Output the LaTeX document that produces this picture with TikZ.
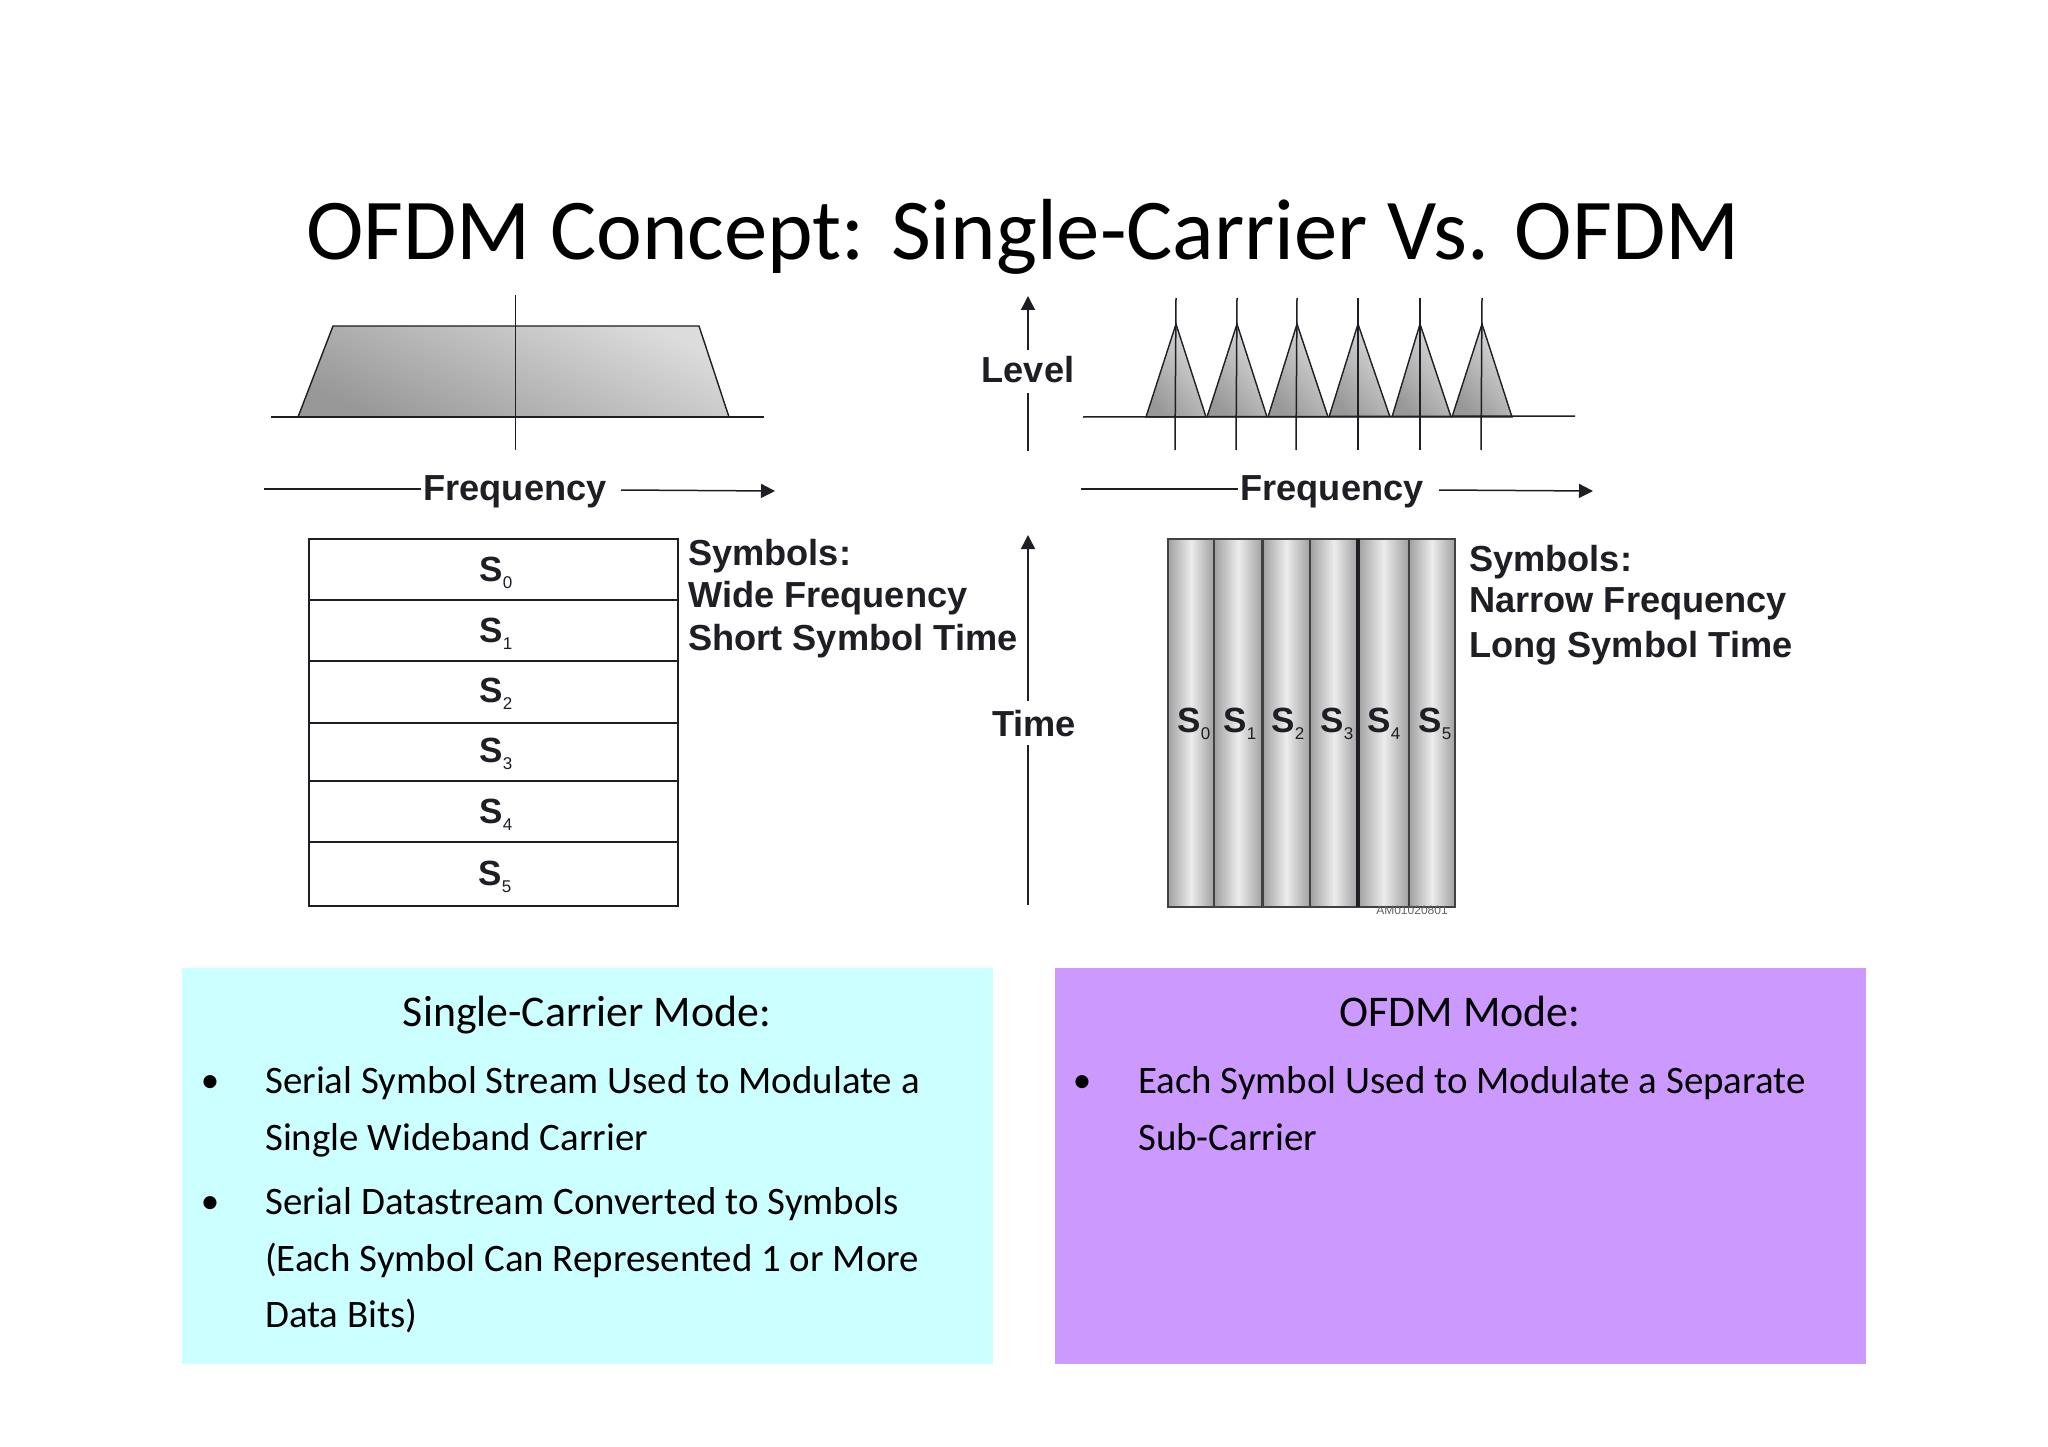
\documentclass[tikz,border=0pt]{standalone}
\usepackage{fontspec}
\setmainfont{Carlito}
\newfontfamily\arialb{Liberation Sans}[BoldFont={Liberation Sans Bold}]
\usetikzlibrary{arrows.meta}
\definecolor{ink}{HTML}{1E1E24}
\definecolor{cyanbox}{HTML}{CCFFFF}
\definecolor{purplebox}{HTML}{CC99FF}
\definecolor{gdark}{HTML}{989898}
\definecolor{glight}{HTML}{DCDCDC}
\definecolor{cdark}{HTML}{A0A0A0}
\definecolor{clight}{HTML}{ECECEC}
\newcommand{\symb}[1]{S\raisebox{-0.22em}{\mdseries\fontsize{17}{17}\selectfont #1}}
\tikzset{
  x=1pt,y=-1pt,
  figlabel/.style={font=\arialb\bfseries\fontsize{36.2}{36.2}\selectfont,text=ink,inner sep=0pt},
  symlabel/.style={font=\arialb\bfseries\fontsize{35}{35}\selectfont,text=ink,inner sep=0pt,anchor=base},
  axisline/.style={draw=ink,line width=1.5pt},
  axisarrow/.style={axisline,-{Triangle[length=14pt,width=14pt]}},
  rowbox/.style={draw=ink,line width=1.6pt,fill=white,minimum width=369pt,inner sep=0pt,outer sep=0pt},
  colshade/.style={draw=ink!85!white,line width=2.4pt,left color=cdark,right color=cdark,middle color=clight},
  modebox/.style={minimum width=811pt,minimum height=396pt,inner sep=0pt},
  modehead/.style={font=\fontsize{43.8}{43.8}\selectfont,text=black,inner sep=0pt,anchor=base},
  modebody/.style={font=\fontsize{38.9}{56.5}\selectfont,text=black,inner sep=0pt,align=left,anchor=west},
  dotmark/.style={font=\fontsize{37}{37}\selectfont,text=black,inner sep=0pt},
}
\begin{document}
\begin{tikzpicture}
\useasboundingbox (0,0) rectangle (2048,1447);
\fill[white] (0,0) rectangle (2048,1447);
% title
\node[font=\fontsize{86.7}{86.7}\selectfont,text=black,inner sep=0pt] (title) at (1023,237) {OFDM Concept: Single-Carrier Vs. OFDM};

% left spectrum
\shade[draw=ink,line width=1.4pt,left color=gdark,right color=glight,shading angle=155]
  (298,417) -- (333,326) -- (699,326) -- (729,417) -- cycle;
\coordinate (laxL) at (271,417); \coordinate (laxR) at (764,417);
\draw[axisline] (laxL) -- (laxR);
\coordinate (lcT) at (515.5,295); \coordinate (lcB) at (515.5,450);
\draw[axisline] (lcT) -- (lcB);

% left frequency
\node[figlabel] (lfreq) at (515,492) {Frequency};
\coordinate (lfS) at (264,489); \coordinate (lfE) at (775,491);
\draw[axisline] (lfS) -- ([xshift=-2pt]lfreq.west |- lfS);
\draw[axisarrow] (621,490) -- (lfE);

% left table
\node[rowbox,minimum height=61pt] (r0) at (493.5,569.5) {};
\node[rowbox,minimum height=61pt] (r1) at (493.5,630.5) {};
\node[rowbox,minimum height=62pt] (r2) at (493.5,692) {};
\node[rowbox,minimum height=58pt] (r3) at (493.5,752) {};
\node[rowbox,minimum height=61pt] (r4) at (493.5,811.5) {};
\node[rowbox,minimum height=64pt] (r5) at (493.5,874) {};
\node[symlabel] (ls0) at (496,581) {\symb{0}};
\node[symlabel] (ls1) at (496,642) {\symb{1}};
\node[symlabel] (ls2) at (496,702) {\symb{2}};
\node[symlabel] (ls3) at (496,762) {\symb{3}};
\node[symlabel] (ls4) at (496,823) {\symb{4}};
\node[symlabel] (ls5) at (495,885) {\symb{5}};

\node[figlabel,anchor=west] (lsa) at (688,556) {Symbols:};
\node[figlabel,anchor=west] (lsb) at (688,598) {Wide Frequency};
\node[figlabel,anchor=west] (lsc) at (688,641) {Short Symbol Time};

% centre axes
\node[figlabel] (level) at (1028,370) {Level};
\coordinate (levT) at (1028,296); \coordinate (levB) at (1028,451);
\draw[axisarrow] (1028,350) -- (levT);
\draw[axisline] (1028,393) -- (levB);
\node[figlabel] (time) at (1034,724) {Time};
\coordinate (timT) at (1028,535); \coordinate (timB) at (1028,905);
\draw[axisarrow] (1028,701) -- (timT);
\draw[axisline] (1028,745) -- (timB);

% right spectrum
\foreach \a/\b/\c in {1146/1176/1206,1207/1237/1267,1268/1297/1328,1329/1358/1390,1392/1420/1451,1452/1482/1512}{
  \shade[draw=ink,line width=1.4pt,left color=gdark,right color=glight,shading angle=130]
    (\a,417) -- (\b,324) -- (\c,417) -- cycle;
}
\coordinate (raxL) at (1083,417); \coordinate (raxR) at (1575,416);
\draw[axisline] (raxL) -- (raxR);
\foreach \p/\q in {1176/1175,1237/1236,1297/1296,1358/1358,1420/1420,1482/1481}{
  \draw[axisline] (\p,298) -- (\q,450);
}

% right frequency
\node[figlabel] (rfreq) at (1332,492) {Frequency};
\coordinate (rfS) at (1081,489); \coordinate (rfE) at (1593,491);
\draw[axisline] (rfS) -- ([xshift=-2pt]rfreq.west |- rfS);
\draw[axisarrow] (1439,490) -- (rfE);

% right columns
\shade[colshade] (1168,539) rectangle (1214,907);
\shade[colshade] (1214,539) rectangle (1262.5,907);
\shade[colshade] (1262.5,539) rectangle (1310,907);
\shade[colshade] (1310,539) rectangle (1358,907);
\shade[colshade] (1358,539) rectangle (1409,907);
\shade[colshade] (1409,539) rectangle (1455,907);
\draw[draw=ink,line width=3.5pt] (1358,539) -- (1358,907);
\node[symlabel] (rs0) at (1194,732) {\symb{0}};
\node[symlabel] (rs1) at (1240,732) {\symb{1}};
\node[symlabel] (rs2) at (1288,732) {\symb{2}};
\node[symlabel] (rs3) at (1337,732) {\symb{3}};
\node[symlabel] (rs4) at (1384,732) {\symb{4}};
\node[symlabel] (rs5) at (1435,732) {\symb{5}};
\node[font=\arialb\fontsize{12}{12}\selectfont,text=ink!70!white,inner sep=0pt] (code) at (1412,910) {AM01020801};

\node[figlabel,anchor=west] (rsa) at (1469,562) {Symbols:};
\node[figlabel,anchor=west] (rsb) at (1469,604) {Narrow Frequency};
\node[figlabel,anchor=west] (rsc) at (1469,648) {Long Symbol Time};

% bottom boxes
\node[modebox,fill=cyanbox] (sbox) at (587,1166) {};
\node[modebox,fill=purplebox] (obox) at (1460,1166) {};
\node[modehead] (shead) at (587,1026) {Single-Carrier Mode:};
\node[modehead] (ohead) at (1460,1026) {OFDM Mode:};
\node[dotmark] (b1) at (210,1084) {•};
\node[modebody] (t1) at (265,1110.7) {\strut Serial Symbol Stream Used to Modulate a\\Single Wideband Carrier\strut};
\node[dotmark] (b2) at (210,1205) {•};
\node[modebody] (t2) at (265,1260) {\strut Serial Datastream Converted to Symbols\\(Each Symbol Can Represented 1 or More\\Data Bits)\strut};
\node[dotmark] (b3) at (1082,1084) {•};
\node[modebody] (t3) at (1138,1110.7) {\strut Each Symbol Used to Modulate a Separate\\Sub-Carrier\strut};
\end{tikzpicture}
\end{document}
